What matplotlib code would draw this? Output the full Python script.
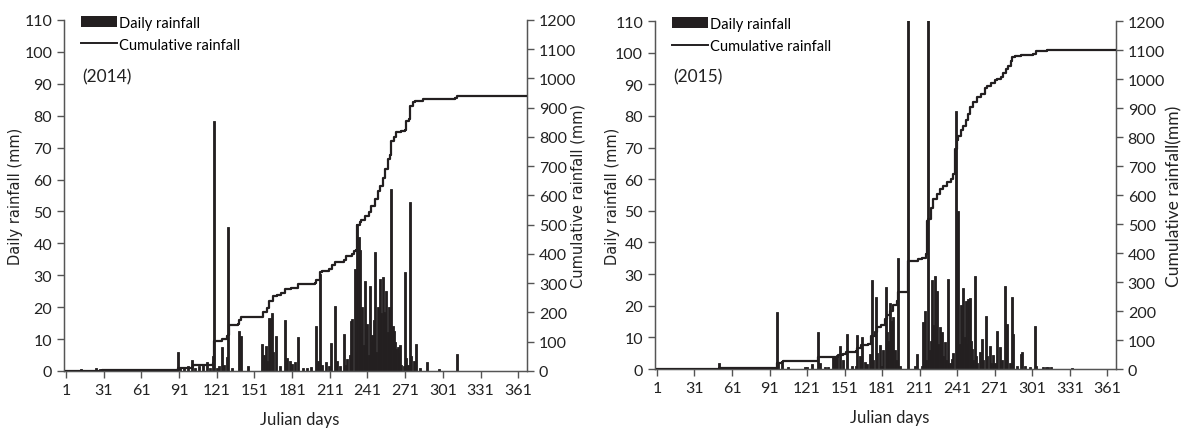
import matplotlib
matplotlib.use('Agg')
import matplotlib.pyplot as plt
from matplotlib.patches import Patch
from matplotlib.lines import Line2D

# daily rainfall 2014 (julian day, mm)
days_2014 = [5, 13, 19, 25, 28, 34, 38, 45, 52, 58, 64, 70, 77, 81, 85,
             90, 92, 95, 98, 101, 104, 107, 110, 113, 116, 118, 119, 121, 123, 125, 127, 129, 130, 133,
             139, 140, 146, 157, 159, 160, 161, 163, 165, 166, 168, 171, 175, 177, 179, 181, 183, 186,
             190, 193, 196, 200, 202, 203, 205, 208, 210, 212, 215, 217, 219, 222, 224, 225, 227, 228,
             229, 231, 232, 233, 234, 235, 236, 237, 238, 239, 240, 241, 242, 243, 244, 245, 246, 247,
             248, 249, 250, 251, 252, 253, 254, 255, 256, 257, 258, 259, 260, 261, 262, 263, 264, 265,
             266, 267, 268, 270, 271, 272, 273, 275, 276, 278, 280, 283, 288, 298, 312]
rain_2014 = [0.3, 0.5, 0.4, 0.8, 0.5, 0.3, 0.6, 0.4, 0.5, 0.3, 0.6, 0.4, 0.3, 0.5, 0.4,
             5.9, 1.2, 0.8, 1.5, 3.3, 1.0, 1.5, 2.0, 2.8, 1.0, 4.8, 78.5, 1.0, 1.5, 7.5, 2.0, 4.3, 45.2, 0.8,
             12.6, 11.0, 1.5, 8.5, 5.0, 7.9, 3.0, 16.5, 18.1, 6.0, 10.9, 1.5, 16.1, 4.0, 3.2, 2.2, 2.9, 10.5,
             1.0, 0.8, 1.2, 14.2, 3.0, 30.5, 2.0, 2.7, 1.5, 8.7, 20.5, 3.0, 1.5, 11.6, 2.0, 3.8, 5.0, 15.8,
             16.2, 32.0, 6.0, 46.0, 42.0, 38.0, 12.0, 20.0, 8.0, 28.3, 10.0, 14.6, 5.0, 26.7, 9.0, 11.4, 16.0, 37.2,
             6.0, 20.0, 12.0, 28.8, 18.1, 29.4, 18.5, 17.9, 25.0, 12.2, 20.0, 15.0, 57.0, 14.0, 12.5, 9.1, 6.9, 7.5,
             5.5, 8.0, 2.0, 1.5, 31.0, 4.0, 2.0, 53.0, 4.8, 3.0, 8.5, 1.0, 2.9, 0.5, 5.3]

# cumulative rainfall 2014 (julian day, mm)
cum_days_2014 = [1, 10, 30, 60, 89, 90, 101, 102, 113, 118, 119, 125, 129, 130, 131, 138, 139, 140,
                 157, 158, 161, 163, 166, 169, 172, 175, 180, 186, 199, 200, 203, 205, 210, 213, 215,
                 222, 224, 229, 230, 232, 233, 235, 236, 239, 242, 244, 247, 249, 251, 253, 255, 257,
                 259, 260, 262, 264, 268, 271, 272, 274, 275, 277, 279, 285, 311, 312, 368]
cum_2014 = [0, 1, 2, 3, 4, 10, 14, 20, 22, 26, 104, 110, 118, 122, 158, 160, 176, 183,
            183, 200, 215, 240, 255, 260, 268, 280, 285, 297, 300, 312, 338, 343, 350, 362, 372,
            380, 392, 400, 411, 415, 500, 508, 517, 530, 543, 565, 588, 615, 634, 660, 690, 725,
            740, 788, 800, 816, 822, 825, 853, 862, 905, 918, 924, 930, 932, 939, 939]

# daily rainfall 2015
days_2015 = [3, 20, 40, 51, 70, 85, 97, 98, 101, 106, 119, 121, 125, 130, 131, 135, 138, 142, 143, 145,
             147, 150, 153, 157, 160, 161, 163, 165, 167, 169, 171, 173, 174, 176, 177, 179, 181, 182,
             184, 185, 186, 187, 188, 189, 190, 191, 192, 194, 195, 202, 207, 209, 213, 214, 215, 216,
             218, 219, 220, 221, 222, 223, 224, 225, 226, 227, 228, 229, 230, 231, 232, 234, 235, 237,
             238, 240, 241, 242, 243, 244, 245, 246, 247, 248, 249, 250, 251, 252, 253, 254, 255, 256,
             257, 259, 261, 262, 264, 265, 267, 268, 270, 271, 273, 275, 277, 279, 280, 281, 283, 285,
             286, 289, 292, 293, 295, 299, 303, 304, 310, 312, 314, 316, 333]
rain_2015 = [0.2, 0.3, 0.2, 1.8, 0.2, 0.3, 18.1, 2.0, 2.1, 0.5, 0.6, 0.5, 1.6, 11.6, 2.0, 0.5, 0.5, 4.2, 3.7, 4.4,
             7.2, 3.0, 11.1, 1.0, 0.9, 10.7, 4.0, 10.0, 2.1, 1.5, 4.7, 28.2, 3.0, 22.7, 5.0, 7.6, 1.0, 6.0,
             25.8, 11.6, 9.0, 21.0, 12.6, 15.3, 16.3, 6.0, 3.0, 35.0, 1.0, 112.0, 1.0, 4.7, 1.0, 15.0, 18.4, 3.0,
             115.0, 6.0, 9.0, 28.2, 14.0, 29.3, 10.0, 24.7, 8.0, 13.2, 6.0, 11.6, 4.0, 8.4, 3.0, 28.4, 2.0, 3.2,
             5.0, 81.6, 6.0, 50.0, 8.0, 20.2, 12.0, 25.5, 10.0, 21.6, 8.0, 22.1, 22.3, 9.0, 6.3, 3.0, 29.3, 4.0,
             2.0, 5.3, 9.5, 3.0, 16.8, 4.0, 7.4, 2.0, 4.4, 2.0, 12.1, 7.0, 3.0, 26.3, 5.0, 14.2, 2.0, 22.7,
             11.0, 1.0, 4.7, 5.3, 1.0, 0.5, 13.7, 1.0, 0.5, 0.5, 0.5, 0.5, 0.3]

cum_days_2015 = [1, 50, 51, 96, 97, 101, 102, 129, 130, 143, 146, 150, 152, 160, 161, 164, 170, 172,
                 175, 177, 180, 183, 185, 187, 190, 193, 194, 201, 202, 210, 213, 216, 217, 218, 220,
                 222, 225, 227, 230, 233, 236, 238, 239, 241, 242, 244, 246, 248, 250, 251, 254, 257,
                 260, 263, 265, 268, 271, 273, 276, 278, 280, 282, 284, 285, 287, 292, 302, 304, 313, 368]
cum_2015 = [0, 1, 4, 5, 22, 24, 27, 28, 40, 42, 50, 52, 60, 62, 72, 82, 85, 115,
            128, 144, 152, 172, 185, 201, 220, 236, 264, 266, 373, 378, 384, 397, 510, 517, 555,
            586, 605, 621, 632, 644, 655, 672, 759, 790, 804, 825, 839, 860, 880, 902, 920, 937,
            950, 970, 977, 985, 995, 1000, 1006, 1020, 1034, 1045, 1063, 1075, 1080, 1084, 1086, 1098, 1101, 1101]

xticks = list(range(1, 362, 30))

INK = '#231f20'
AXC = '#555555'
TICKFONT = 'Lato'


def draw_panel(ax, days, rain, cdays, cum, year, cum_label, daily_font, cum_font):
    ax.bar(days, rain, width=1.6, color=INK, edgecolor=INK, linewidth=0.6)
    ax.set_xlim(-0.6, 368)
    ax.set_ylim(0, 110)
    ax.set_yticks(range(0, 111, 10))
    ax.set_xticks(xticks)
    ax.spines['top'].set_visible(False)
    for s in ['left', 'bottom', 'right']:
        ax.spines[s].set_color(AXC)
        ax.spines[s].set_linewidth(1.0)
    ax.tick_params(axis='both', direction='out', length=5, width=1, color=AXC,
                   labelsize=11.5, labelcolor='#222222')
    for lab in ax.get_xticklabels() + ax.get_yticklabels():
        lab.set_family(TICKFONT)

    ax.set_xlabel('Julian days', fontsize=12, family=TICKFONT, color='#222222')
    ax.xaxis.set_label_coords(0.51, -0.115)
    ax.set_ylabel('Daily rainfall (mm)', fontsize=daily_font[1], family=daily_font[0], color='#222222')
    ax.yaxis.set_label_coords(daily_font[2], 0.5)

    ax2 = ax.twinx()
    ax2.plot(cdays, cum, color=INK, linewidth=1.6, drawstyle='steps-post')
    ax2.set_ylim(0, 1200)
    ax2.set_yticks(range(0, 1201, 100))
    ax2.spines['top'].set_visible(False)
    for s in ['left', 'bottom', 'right']:
        ax2.spines[s].set_color(AXC)
    ax2.tick_params(axis='y', direction='out', length=5, width=1, color=AXC,
                    labelsize=11.5, labelcolor='#222222')
    for lab in ax2.get_yticklabels():
        lab.set_family(TICKFONT)
    ax2.set_ylabel(cum_label, fontsize=cum_font[1], family=cum_font[0], color='#222222')
    ax2.yaxis.set_label_coords(cum_font[2], 0.5)

    handles = [Patch(facecolor=INK, edgecolor='none'), Line2D([], [], color=INK, linewidth=1.4)]
    ax2.legend(handles, ['Daily rainfall', 'Cumulative rainfall'], loc='upper left',
               bbox_to_anchor=(0.036, 1.012), frameon=False, borderpad=0, borderaxespad=0,
               handlelength=2.5, handleheight=0.8, handletextpad=0.15, labelspacing=0.55,
               prop={'family': TICKFONT, 'size': 10.5})
    ax2.text(0.04, 0.84, '(%d)' % year, transform=ax2.transAxes, fontsize=12.5,
             family=TICKFONT, va='center', ha='left', color='#222222')
    return ax2


fig = plt.figure(figsize=(11.82, 4.31), dpi=100)
ax_a = fig.add_axes([0.05415, 0.1369, 0.3917, 0.8144])
ax_b = fig.add_axes([0.5541, 0.1415, 0.3900, 0.8074])

draw_panel(ax_a, days_2014, rain_2014, cum_days_2014, cum_2014, 2014,
           'Cumulative rainfall (mm)', ('DejaVu Sans', 10.5, -0.088), ('DejaVu Sans', 10.5, 1.095))
draw_panel(ax_b, days_2015, rain_2015, cum_days_2015, cum_2015, 2015,
           'Cumulative rainfall(mm)', ('DejaVu Sans', 10.5, -0.076), (TICKFONT, 12.5, 1.11))

fig.savefig('out.png', dpi=100)
